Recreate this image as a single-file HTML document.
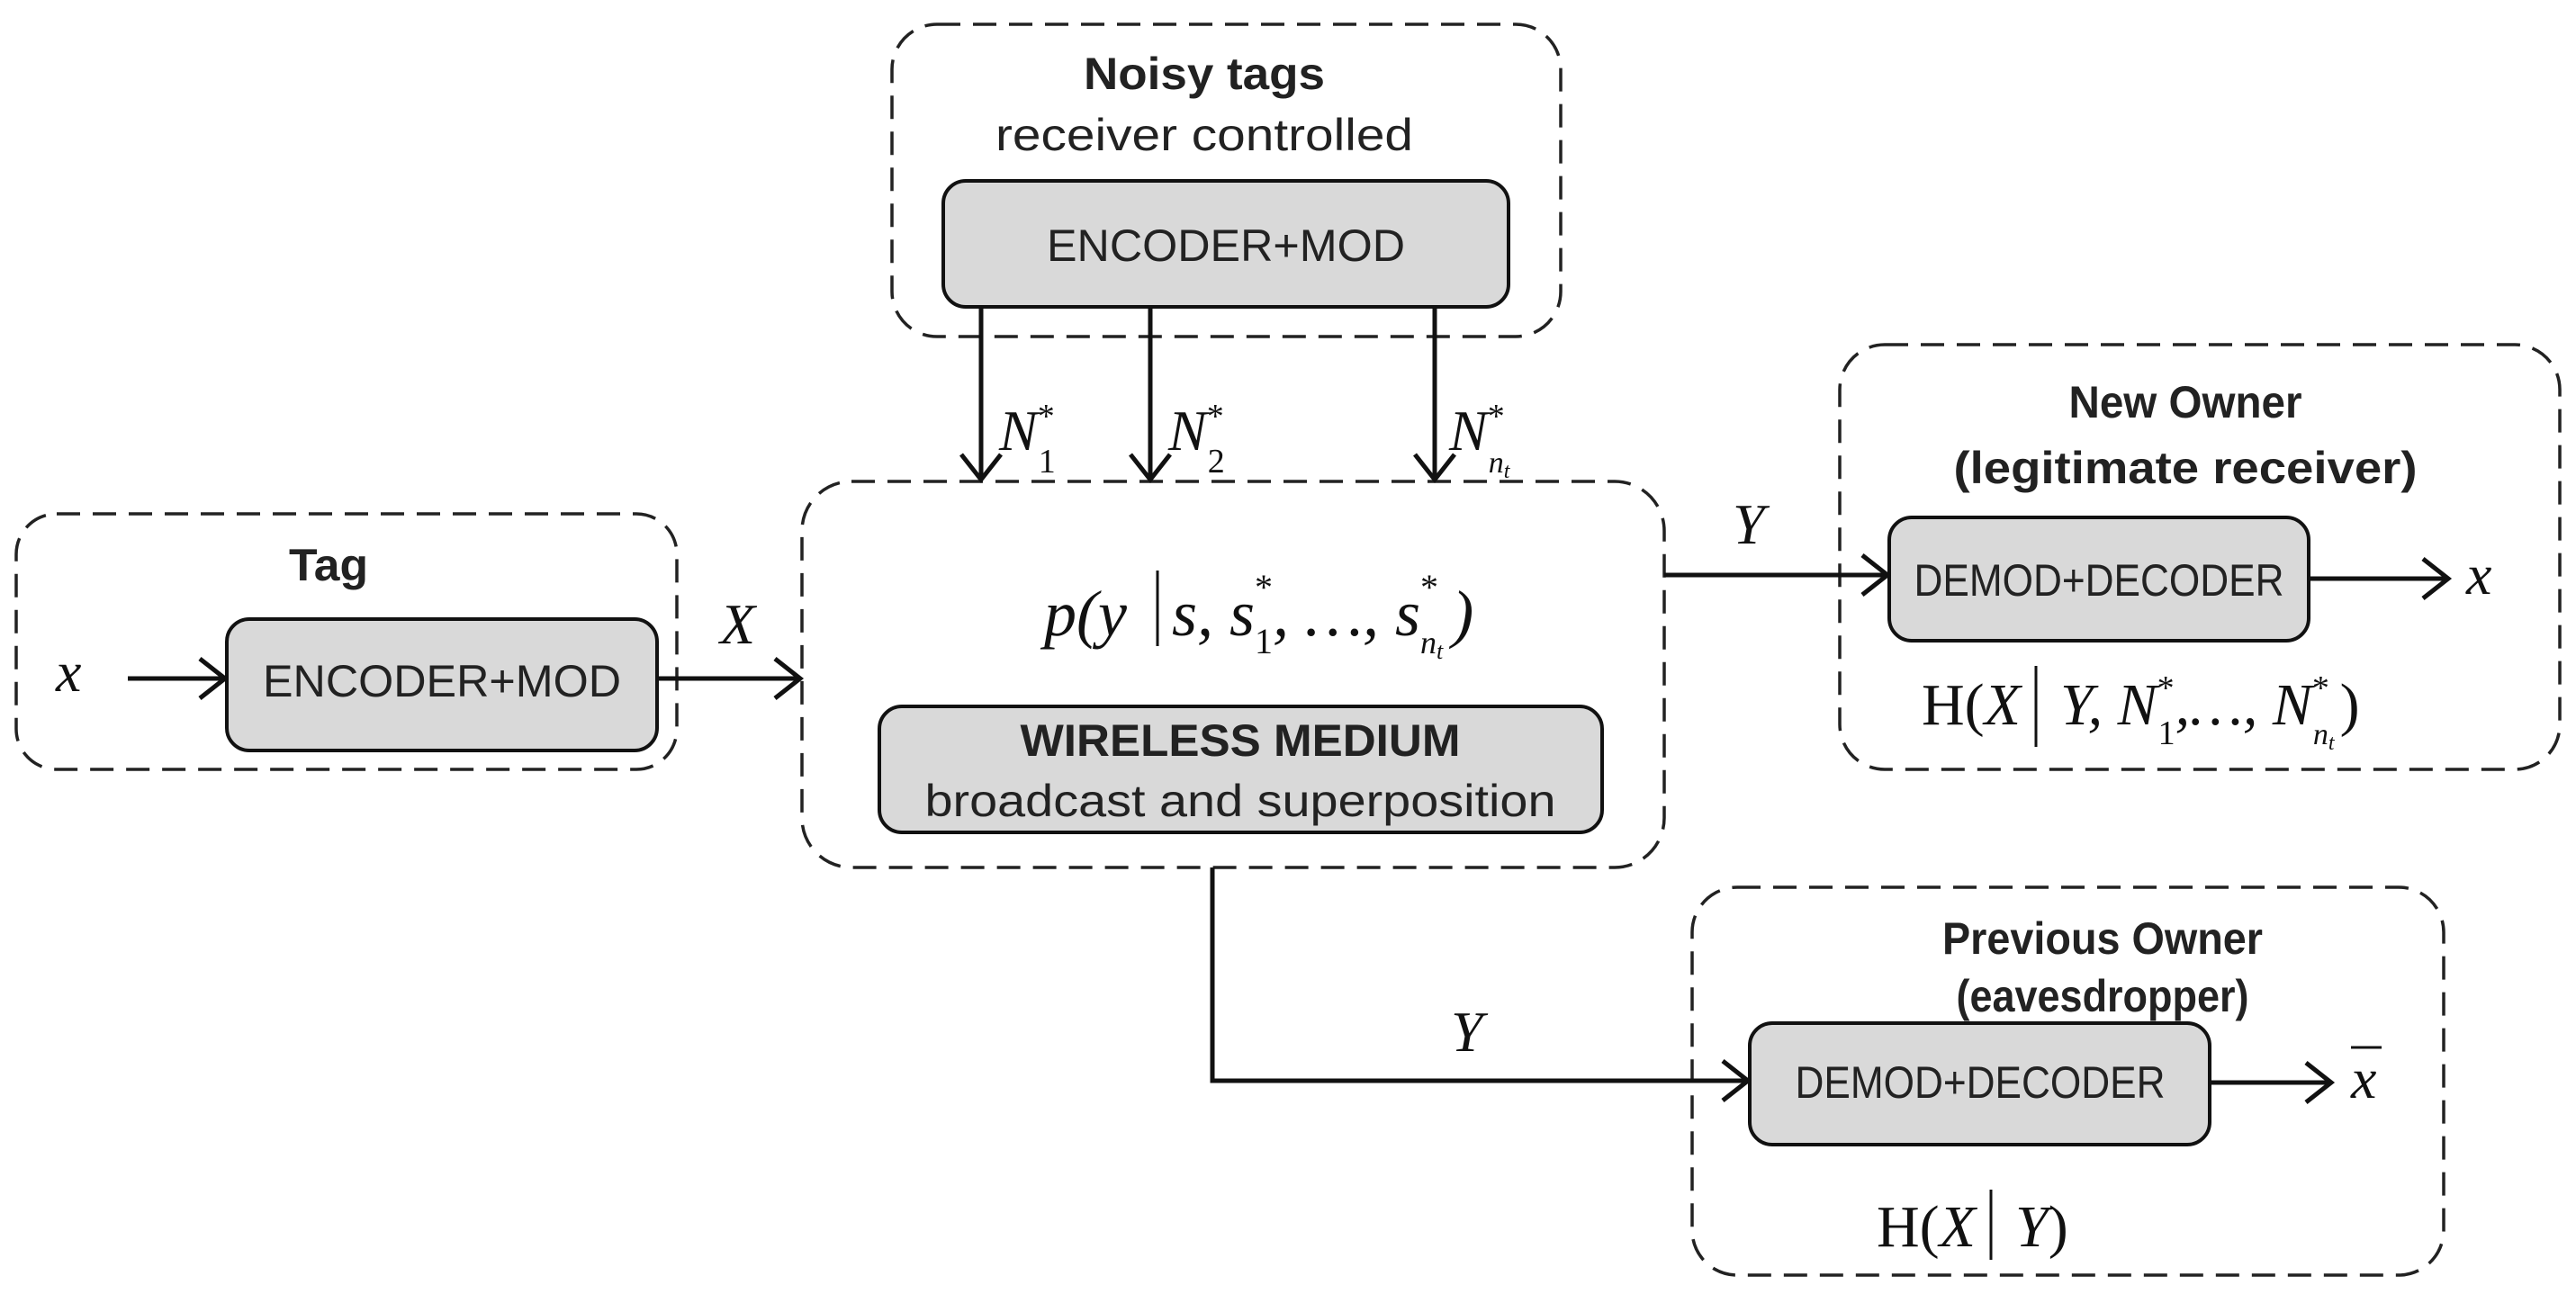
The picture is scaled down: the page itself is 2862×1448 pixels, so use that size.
<!DOCTYPE html>
<html><head><meta charset="utf-8"><style>html,body{margin:0;padding:0;background:#fff}svg{display:block}</style></head><body>
<svg width="2862" height="1448" viewBox="0 0 2862 1448" xmlns="http://www.w3.org/2000/svg">
<g fill="none" stroke="#222" stroke-width="3.5" stroke-dasharray="26,14">
<rect x="991" y="27" width="743" height="347" rx="50"/>
<rect x="891" y="535" width="958" height="429" rx="55"/>
<rect x="18" y="571" width="734" height="284" rx="45"/>
<rect x="2044" y="383" width="800" height="472" rx="50"/>
<rect x="1880" y="986" width="835" height="431" rx="50"/>
</g>
<g fill="#d9d9d9" stroke="#111" stroke-width="4">
<rect x="1048" y="201" width="628" height="140" rx="25"/>
<rect x="977" y="785" width="803" height="140" rx="25"/>
<rect x="252" y="688" width="478" height="146" rx="25"/>
<rect x="2099" y="575" width="466" height="137" rx="25"/>
<rect x="1944" y="1137" width="511" height="135" rx="25"/>
</g>
<g stroke="#111" stroke-width="5" fill="none">
<line x1="1090" y1="341" x2="1090" y2="533"/><polyline points="1068,505 1090,533 1112,505"/>
<line x1="1278" y1="341" x2="1278" y2="533"/><polyline points="1256,505 1278,533 1300,505"/>
<line x1="1594" y1="341" x2="1594" y2="533"/><polyline points="1572,505 1594,533 1616,505"/>
<line x1="142" y1="754" x2="250" y2="754"/><polyline points="222,732 250,754 222,776"/>
<line x1="730" y1="754" x2="889" y2="754"/><polyline points="861,732 889,754 861,776"/>
<line x1="1849" y1="639" x2="2097" y2="639"/><polyline points="2069,617 2097,639 2069,661"/>
<line x1="2565" y1="643" x2="2720" y2="643"/><polyline points="2692,621 2720,643 2692,665"/>
<polyline points="1347,964 1347,1201 1942,1201"/><polyline points="1914,1179 1942,1201 1914,1223"/>
<line x1="2455" y1="1203" x2="2590" y2="1203"/><polyline points="2562,1181 2590,1203 2562,1225"/>
</g>
<g font-family="'Liberation Sans', sans-serif" fill="#222" text-anchor="middle" font-size="50">
<text x="1338" y="99" font-weight="bold" textLength="268" lengthAdjust="spacingAndGlyphs">Noisy tags</text>
<text x="1338" y="167" textLength="464" lengthAdjust="spacingAndGlyphs">receiver controlled</text>
<text x="1362" y="290" textLength="398" lengthAdjust="spacingAndGlyphs">ENCODER+MOD</text>
<text x="491" y="774" textLength="398" lengthAdjust="spacingAndGlyphs">ENCODER+MOD</text>
<text x="365" y="645" font-weight="bold" textLength="88" lengthAdjust="spacingAndGlyphs">Tag</text>
<text x="1378" y="840" font-weight="bold" textLength="489" lengthAdjust="spacingAndGlyphs">WIRELESS MEDIUM</text>
<text x="1378" y="907" textLength="701" lengthAdjust="spacingAndGlyphs">broadcast and superposition</text>
<text x="2428" y="464" font-weight="bold" textLength="259" lengthAdjust="spacingAndGlyphs">New Owner</text>
<text x="2428" y="537" font-weight="bold" textLength="515" lengthAdjust="spacingAndGlyphs">(legitimate receiver)</text>
<text x="2332" y="662" textLength="411" lengthAdjust="spacingAndGlyphs">DEMOD+DECODER</text>
<text x="2336" y="1060" font-weight="bold" textLength="356" lengthAdjust="spacingAndGlyphs">Previous Owner</text>
<text x="2336" y="1124" font-weight="bold" textLength="325" lengthAdjust="spacingAndGlyphs">(eavesdropper)</text>
<text x="2200" y="1220" textLength="411" lengthAdjust="spacingAndGlyphs">DEMOD+DECODER</text>
</g>
<g font-family="'Liberation Serif', serif" fill="#111" font-size="64" font-style="italic">
<text x="62" y="768">x</text>
<text x="800" y="715">X</text>
<text x="1925" y="604">Y</text>
<text x="2740" y="660">x</text>
<text x="1612" y="1168">Y</text>
<text x="2612" y="1220">x</text>
<text x="1110" y="500">N<tspan font-size="38" dy="-25" font-style="normal">*</tspan><tspan font-size="38" dx="-18" dy="50" font-style="normal">1</tspan></text>
<text x="1298" y="500">N<tspan font-size="38" dy="-25" font-style="normal">*</tspan><tspan font-size="38" dx="-18" dy="50" font-style="normal">2</tspan></text>
<text x="1610" y="500">N<tspan font-size="38" dy="-25" font-style="normal">*</tspan><tspan font-size="34" dx="-18" dy="50">n<tspan font-size="24" dy="6">t</tspan></tspan></text>
<text x="1160" y="706" font-size="72">p(y<tspan dx="50">s,</tspan> s<tspan font-size="40" dy="-40" font-style="normal">*</tspan><tspan font-size="40" dx="-20" dy="60" font-style="normal">1</tspan><tspan dy="-20">, …, s</tspan><tspan font-size="40" dy="-40" font-style="normal">*</tspan><tspan font-size="36" dx="-20" dy="60">n<tspan font-size="26" dy="6">t</tspan></tspan><tspan dy="-26" dx="10">)</tspan></text>
<text x="2135" y="805" font-size="66"><tspan font-style="normal">H(</tspan>X<tspan dx="44">Y</tspan>, N<tspan font-size="38" dy="-28" font-style="normal">*</tspan><tspan font-size="38" dx="-18" dy="50" font-style="normal">1</tspan><tspan dy="-22">,…, N</tspan><tspan font-size="38" dy="-28" font-style="normal">*</tspan><tspan font-size="34" dx="-18" dy="50">n<tspan font-size="24" dy="6">t</tspan></tspan><tspan dy="-28" font-style="normal" dx="6">)</tspan></text>
<text x="2085" y="1385" font-size="66"><tspan font-style="normal">H(</tspan>X<tspan dx="44">Y</tspan><tspan font-style="normal">)</tspan></text>
</g>
<g stroke="#111" stroke-width="3">
<line x1="1286" y1="634" x2="1286" y2="718"/>
<line x1="2262" y1="740" x2="2262" y2="830"/>
<line x1="2212" y1="1322" x2="2212" y2="1400"/>
<line x1="2612" y1="1164" x2="2646" y2="1164"/>
</g>
</svg>
</body></html>
